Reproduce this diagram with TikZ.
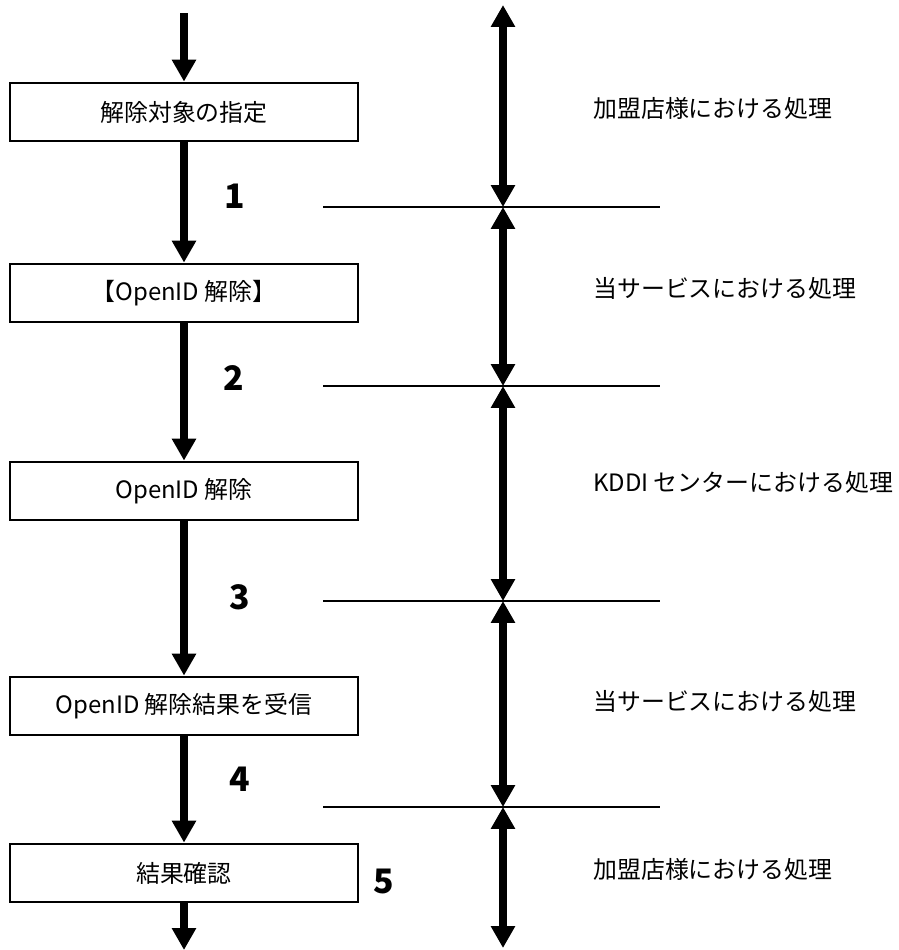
\documentclass[tikz,border=0pt]{standalone}
\usepackage{fontspec}
\setmainfont{Noto Sans CJK JP}
\usepackage{tikz}
\usetikzlibrary{arrows.meta, positioning}

\tikzset{
  stepbox/.style={draw=black, line width=1.4pt, fill=white, minimum width=8.68cm, minimum height=1.47cm, inner sep=0pt, font=\fontsize{17}{20}\selectfont},
  flowarrow/.style={line width=5pt, -{Triangle[width=16.4pt, length=15.6pt]}},
  zonearrow/.style={line width=5pt, {Triangle[width=16.4pt, length=15.6pt]}-{Triangle[width=16.4pt, length=15.6pt]}},
  divline/.style={line width=1.1pt},
  numlabel/.style={font=\fontsize{24}{28}\selectfont\bfseries, inner sep=0pt},
  zonelabel/.style={anchor=west, inner sep=0pt, font=\fontsize{17}{20}\selectfont}
}

\begin{document}
\begin{tikzpicture}[x=0.025cm, y=-0.025cm]
  \useasboundingbox (0,0) rectangle (899,950);

  % process boxes
  \node[stepbox] (pick) at (184,112) {解除対象の指定};
  \node[stepbox] (svc1) at (184,293) {【OpenID 解除】};
  \node[stepbox] (kddi) at (184,491) {OpenID 解除};
  \node[stepbox] (recv) at (184,706) {OpenID 解除結果を受信};
  \node[stepbox] (check) at (184,873) {結果確認};
  \coordinate (flowin) at (184,13);
  \coordinate (flowout) at (184,950);

  \draw[flowarrow] (flowin) -- (pick);
  \draw[flowarrow] (pick) -- (svc1);
  \draw[flowarrow] (svc1) -- (kddi);
  \draw[flowarrow] (kddi) -- (recv);
  \draw[flowarrow] (recv) -- (check);
  \draw[flowarrow] (check) -- (flowout);

  % step numbers
  \node[numlabel] (n1) at (235,196) {1};
  \node[numlabel] (n2) at (234,378) {2};
  \node[numlabel] (n3) at (240,597) {3};
  \node[numlabel] (n4) at (240,779) {4};
  \node[numlabel] (n5) at (384,881) {5};

  % zone borders
  \coordinate (ztop) at (503,5);
  \coordinate (z1) at (503,207);
  \coordinate (z2) at (503,386);
  \coordinate (z3) at (503,601);
  \coordinate (z4) at (503,807);
  \coordinate (zbot) at (503,948);

  \draw[divline] (323,207) -- (660,207);
  \draw[divline] (323,386) -- (660,386);
  \draw[divline] (323,601) -- (660,601);
  \draw[divline] (323,807) -- (660,807);

  \draw[zonearrow] (ztop) -- (z1);
  \draw[zonearrow] (z1) -- (z2);
  \draw[zonearrow] (z2) -- (z3);
  \draw[zonearrow] (z3) -- (z4);
  \draw[zonearrow] (z4) -- (zbot);

  % zone names
  \node[zonelabel] (shop1) at (593,108) {加盟店様における処理};
  \node[zonelabel] (ours1) at (593,288) {当サービスにおける処理};
  \node[zonelabel] (center) at (593,482) {KDDI センターにおける処理};
  \node[zonelabel] (ours2) at (593,701) {当サービスにおける処理};
  \node[zonelabel] (shop2) at (593,869) {加盟店様における処理};
\end{tikzpicture}
\end{document}
